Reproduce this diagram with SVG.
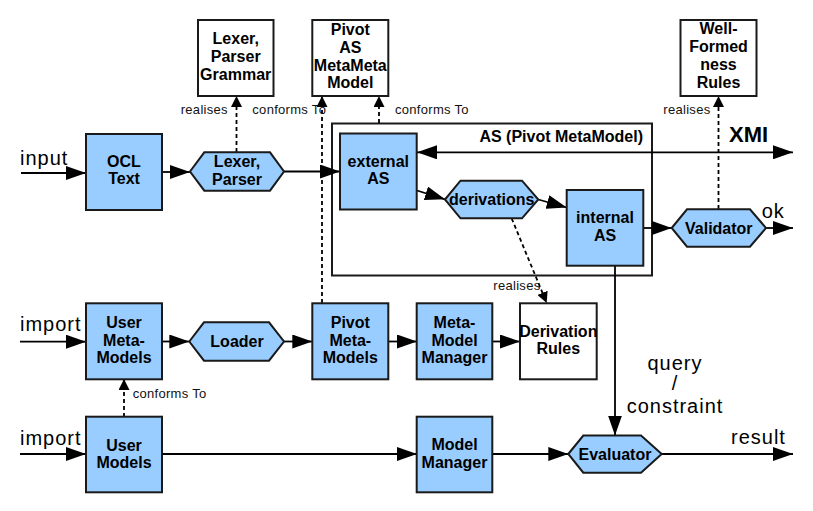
<svg xmlns="http://www.w3.org/2000/svg" width="813" height="511" viewBox="0 0 813 511">
<style>
  .box { fill: #99ccff; stroke: #1a1a1a; stroke-width: 2; }
  .wbox { fill: #ffffff; stroke: #1a1a1a; stroke-width: 2; }
  .cont { fill: none; stroke: #1a1a1a; stroke-width: 2; }
  .lbl { font-family: "Liberation Sans", Arial, sans-serif; font-size: 16px; font-weight: bold; text-anchor: middle; fill: #000; }
  .small { font-family: "Liberation Sans", Arial, sans-serif; font-size: 13px; fill: #111; letter-spacing: 0.3px; }
  .big { font-family: "Liberation Sans", Arial, sans-serif; font-size: 20px; fill: #000; letter-spacing: 1px; }
  .conn { fill: none; stroke: #000; stroke-width: 1.8; }
  .solid { marker-end: url(#ah); }
  .dash { stroke-dasharray: 4 3; marker-end: url(#sh); }
</style>
<defs>
  <marker id="ah" markerUnits="userSpaceOnUse" markerWidth="21" markerHeight="14" refX="20" refY="7" orient="auto-start-reverse">
    <path d="M0,0 L20,7 L0,14 z" fill="#000"/>
  </marker>
  <marker id="sh" markerUnits="userSpaceOnUse" markerWidth="11" markerHeight="11" refX="11" refY="5.5" orient="auto">
    <path d="M0,0 L11,5.5 L0,11 z" fill="#000"/>
  </marker>
</defs>
<rect width="813" height="511" fill="#ffffff"/>

<g id="as-container">
  <rect class="cont" x="332" y="123.5" width="320" height="152"/>
  <text class="lbl" x="643" y="141.5" style="text-anchor:end;font-size:16px">AS (Pivot MetaModel)</text>
</g>

<g id="connectors">
  <path class="conn solid" d="M21,173 L86,173"/>
  <path class="conn solid" d="M162,172 L190,172"/>
  <path class="conn solid" d="M284,171.5 L340,171.5"/>
  <path class="conn dash" d="M236.5,152 L236.5,96"/>
  <path class="conn dash" d="M322,303 L322,96"/>
  <path class="conn dash" d="M379,123 L379,96"/>
  <path class="conn dash" d="M718.5,209 L718.5,96"/>
  <path class="conn" d="M417,152.3 L793,152.3" marker-start="url(#ah)" marker-end="url(#ah)"/>
  <path class="conn solid" d="M417,190.5 L445,199.3"/>
  <path class="conn solid" d="M538.3,199.5 L566.7,207.5"/>
  <path class="conn solid" d="M643,228 L671.7,228"/>
  <path class="conn solid" d="M766,228 L793,228"/>
  <path class="conn dash" d="M511.7,218.5 L546.7,303"/>
  <path class="conn solid" d="M615,266 L615,435.5"/>
  <path class="conn solid" d="M20,341.7 L86,341.7"/>
  <path class="conn solid" d="M162,341.5 L189.3,341.5"/>
  <path class="conn solid" d="M284,341.5 L312.3,341.5"/>
  <path class="conn solid" d="M388.3,341.5 L417,341.5"/>
  <path class="conn solid" d="M492.3,341.5 L520,341.5"/>
  <path class="conn dash" d="M124,417 L124,379"/>
  <path class="conn solid" d="M20,454 L86,454"/>
  <path class="conn solid" d="M162,454 L417,454"/>
  <path class="conn solid" d="M492.3,454 L568.3,454"/>
  <path class="conn solid" d="M662,454 L793,454"/>
</g>

<g id="connector-labels">
  <text class="small" x="180.7" y="114">realises</text>
  <text class="small" x="252.3" y="114">conforms To</text>
  <text class="small" x="395" y="114">conforms To</text>
  <text class="small" x="663.3" y="114">realises</text>
  <text class="small" x="493.3" y="290">realises</text>
  <text class="small" x="132.7" y="398.3">conforms To</text>
  <text class="big" x="20" y="165">input</text>
  <text class="big" x="20" y="330.7">import</text>
  <text class="big" x="20" y="445">import</text>
  <text class="big" x="761.7" y="218.3">ok</text>
  <text class="big" x="731" y="444.3">result</text>
  <text class="big" x="675" y="370" style="text-anchor:middle">query</text>
  <text class="big" x="675" y="390" style="text-anchor:middle">/</text>
  <text class="big" x="675" y="413.3" style="text-anchor:middle">constraint</text>
  <text x="729" y="141.7" style="font-family:'Liberation Sans',Arial,sans-serif;font-size:22px;font-weight:bold">XMI</text>
</g>

<g id="grammar">
  <rect class="wbox" x="198" y="20" width="75.5" height="76"/>
  <text class="lbl" x="235.7" y="44">Lexer,</text>
  <text class="lbl" x="235.7" y="62">Parser</text>
  <text class="lbl" x="235.7" y="80">Grammar</text>
</g>
<g id="pivot-metameta">
  <rect class="wbox" x="312.3" y="20" width="76" height="76"/>
  <text class="lbl" x="350.3" y="35">Pivot</text>
  <text class="lbl" x="350.3" y="52.7">AS</text>
  <text class="lbl" x="350.3" y="70.7">MetaMeta</text>
  <text class="lbl" x="350.3" y="88">Model</text>
</g>
<g id="wf-rules">
  <rect class="wbox" x="680.5" y="20" width="76" height="76"/>
  <text class="lbl" x="718.5" y="34.3">Well-</text>
  <text class="lbl" x="718.5" y="52.3">Formed</text>
  <text class="lbl" x="718.5" y="70">ness</text>
  <text class="lbl" x="718.5" y="87.7">Rules</text>
</g>
<g id="ocl-text">
  <rect class="box" x="86" y="134" width="76" height="76"/>
  <text class="lbl" x="124" y="166.7">OCL</text>
  <text class="lbl" x="124" y="184.3">Text</text>
</g>
<g id="lexer-parser">
  <polygon class="box" points="190,171.5 204.3,152.3 270,152.3 284,171.5 270,190.7 204.3,190.7"/>
  <text class="lbl" x="237" y="167.3">Lexer,</text>
  <text class="lbl" x="237" y="185">Parser</text>
</g>
<g id="external-as">
  <rect class="box" x="340" y="133.5" width="76.7" height="76"/>
  <text class="lbl" x="378.3" y="166.7">external</text>
  <text class="lbl" x="378.3" y="184.3">AS</text>
</g>
<g id="derivations">
  <polygon class="box" points="445,199.5 460.5,180.7 522,180.7 538.3,199.5 522,218.3 460.5,218.3"/>
  <text class="lbl" x="491.7" y="205">derivations</text>
</g>
<g id="internal-as">
  <rect class="box" x="566.7" y="190" width="76.6" height="75.7"/>
  <text class="lbl" x="605" y="223.3">internal</text>
  <text class="lbl" x="605" y="241">AS</text>
</g>
<g id="validator">
  <polygon class="box" points="671.7,228 687,209.3 750,209.3 766,228 750,246.7 687,246.7"/>
  <text class="lbl" x="718.8" y="233.5">Validator</text>
</g>
<g id="user-metamodels">
  <rect class="box" x="86" y="303.3" width="76" height="76"/>
  <text class="lbl" x="124" y="327.7">User</text>
  <text class="lbl" x="124" y="345.7">Meta-</text>
  <text class="lbl" x="124" y="363.3">Models</text>
</g>
<g id="loader">
  <polygon class="box" points="189.3,341.5 204,322.3 269,322.3 284,341.5 269,360.7 204,360.7"/>
  <text class="lbl" x="237" y="347">Loader</text>
</g>
<g id="pivot-metamodels">
  <rect class="box" x="312.3" y="303.3" width="76" height="76"/>
  <text class="lbl" x="350.3" y="327.7">Pivot</text>
  <text class="lbl" x="350.3" y="345.7">Meta-</text>
  <text class="lbl" x="350.3" y="363.3">Models</text>
</g>
<g id="metamodel-manager">
  <rect class="box" x="416.7" y="303.3" width="75.6" height="76"/>
  <text class="lbl" x="454.5" y="327.7">Meta-</text>
  <text class="lbl" x="454.5" y="345.7">Model</text>
  <text class="lbl" x="454.5" y="363.3">Manager</text>
</g>
<g id="derivation-rules">
  <rect class="wbox" x="520" y="303.3" width="76.7" height="76"/>
  <text class="lbl" x="558.3" y="336.7">Derivation</text>
  <text class="lbl" x="558.3" y="354">Rules</text>
</g>
<g id="user-models">
  <rect class="box" x="86" y="416.7" width="76" height="75.6"/>
  <text class="lbl" x="124" y="450.7">User</text>
  <text class="lbl" x="124" y="468.3">Models</text>
</g>
<g id="model-manager">
  <rect class="box" x="416.7" y="416.7" width="75.6" height="75.6"/>
  <text class="lbl" x="454.5" y="450">Model</text>
  <text class="lbl" x="454.5" y="468.3">Manager</text>
</g>
<g id="evaluator">
  <polygon class="box" points="568.3,454 583.3,435.5 641,435.5 661.7,454 641,472.7 583.3,472.7"/>
  <text class="lbl" x="615" y="459.5">Evaluator</text>
</g>
</svg>
